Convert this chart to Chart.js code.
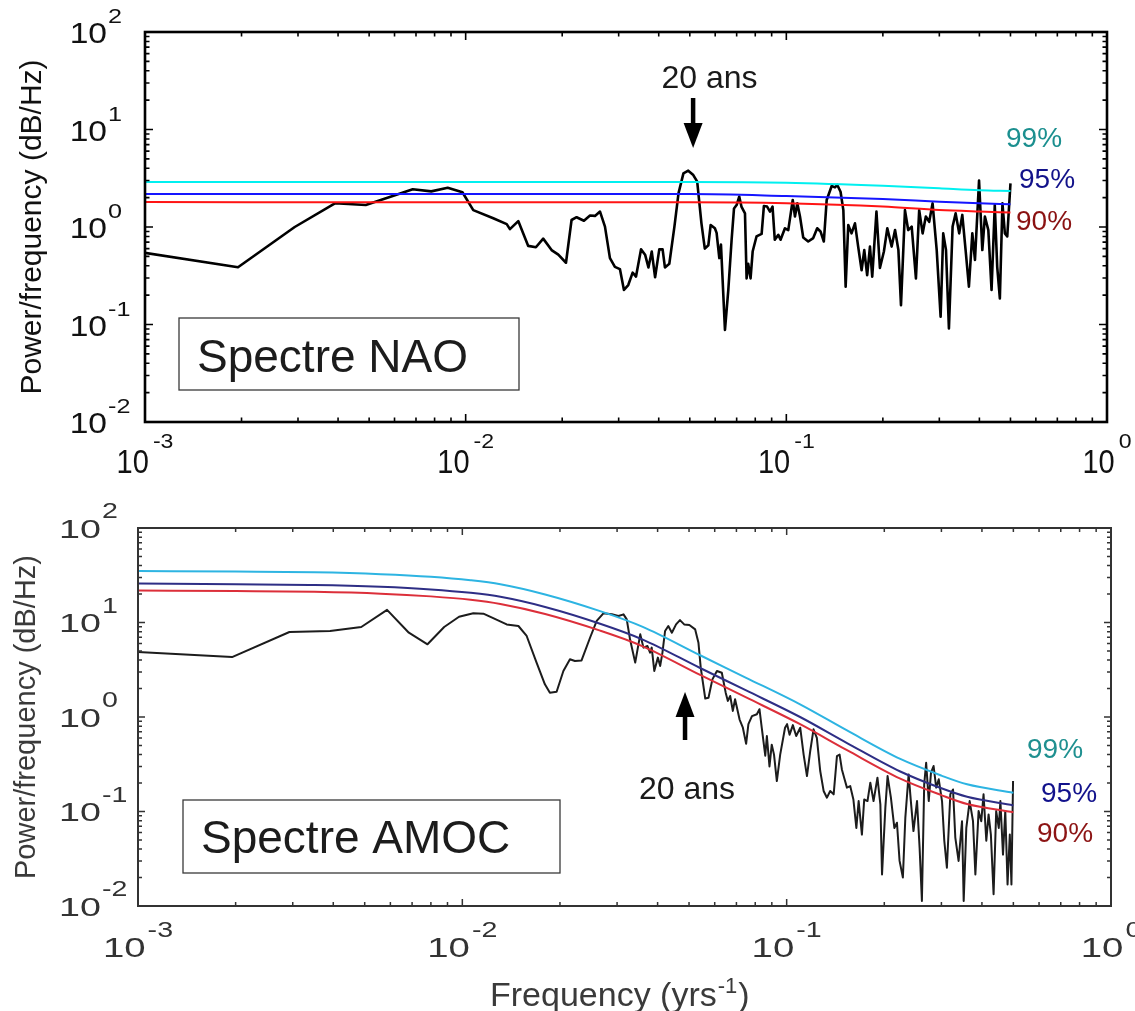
<!DOCTYPE html>
<html><head><meta charset="utf-8">
<script src="https://cdn.jsdelivr.net/npm/chart.js@4.4.1/dist/chart.umd.min.js"></script>
<style>
html,body{margin:0;padding:0;background:#fff;}
#wrap{position:relative;width:1135px;height:1011px;overflow:hidden;background:#fff;}
#c1{position:absolute;left:0;top:0;}
#c2{position:absolute;left:0;top:490px;}
</style></head>
<body><div id="wrap"><canvas id="c1" width="1135" height="490"></canvas><canvas id="c2" width="1135" height="521"></canvas></div>
<script>
// ---------------- DATA ----------------
const xTickValues = [0.001, 0.01, 0.1, 1];
const xTickExps = ['-3', '-2', '-1', '0'];
const yTickValues = [100, 10, 1, 0.1, 0.01];
const yTickExps = ['2', '1', '0', '-1', '-2'];

const naoFreq = [0.000977,0.00195,0.00293,0.00391,0.00488,0.00586,0.00684,0.00781,0.00879,0.00977,
0.01056,0.01219,0.01343,0.01374,0.01459,0.01567,0.01656,0.01745,0.01853,0.01945,0.02055,0.02139,0.02218,0.02338,0.02442,0.02531,0.02624,0.02719,0.02818,0.02920,
0.03027,0.03116,0.03214,0.03317,0.03398,0.03523,0.03627,0.03715,0.03805,0.03897,0.04016,0.04113,0.04182,0.04316,0.04477,0.04610,0.04776,0.04944,0.05127,0.05273,
0.05436,0.05569,0.05712,0.05808,0.05986,0.06061,0.06180,0.06254,0.06436,0.06593,0.06751,0.06868,0.06998,0.07130,0.07244,0.07431,0.07518,0.07605,0.07735,0.07852,
0.08072,0.08375,0.08511,0.08710,0.08892,0.09057,0.09204,0.09441,0.09594,0.0990,
0.1014,0.1047,0.1064,0.1082,0.1103,0.1129,0.1170,0.1213,0.1248,0.1278,0.1309,0.1336,0.1385,0.1418,0.1442,0.1476,0.1506,0.1531,0.1560,0.1597,
0.1637,0.1675,0.1717,0.1750,0.1787,0.1823,0.1853,0.1910,0.1958,0.2015,0.2065,0.2130,0.2183,0.2236,0.2278,0.2344,0.2399,0.2460,0.2536,0.2596,
0.2661,0.2723,0.2790,0.2858,0.2944,0.3028,0.3085,0.3147,0.3214,0.3300,0.3373,0.3460,0.3538,0.3623,0.3710,0.3802,0.3875,0.3990,0.4085,0.4161,
0.4265,0.4365,0.4467,0.4546,0.4633,0.4720,0.4803,0.4886,0.5];
const naoPower = [0.55,0.386,1.0,1.75,1.68,2.05,2.44,2.32,2.53,2.27,
1.49,1.23,1.07,0.95,1.15,0.64,0.62,0.76,0.58,0.52,0.43,1.18,1.26,1.16,1.31,1.30,1.44,1.01,0.48,0.39,
0.37,0.226,0.254,0.34,0.31,0.59,0.52,0.385,0.56,0.305,0.59,0.59,0.385,0.42,1.01,2.21,3.55,3.78,3.41,2.92,
1.09,0.60,0.65,1.05,0.97,0.87,0.48,0.66,0.088,0.226,0.74,1.55,1.68,2.05,1.62,1.38,0.297,0.42,0.297,0.56,
0.80,0.85,1.64,1.62,1.44,1.62,0.74,0.83,0.74,0.97,
0.93,1.89,1.28,1.75,1.28,0.78,0.71,0.77,0.97,0.90,0.71,1.89,2.63,2.55,2.70,2.30,1.49,0.244,1.05,0.86,
1.09,0.63,0.36,0.58,0.32,0.63,0.31,1.44,0.38,0.56,0.97,0.63,0.93,0.58,0.158,1.49,0.93,1.01,0.297,1.49,
0.86,1.28,1.13,1.75,0.58,0.120,0.86,0.58,0.091,1.01,1.38,0.86,1.33,0.58,0.244,0.86,0.46,2.99,0.58,1.28,
0.93,0.226,1.68,0.39,0.185,1.75,0.86,0.80,2.8];

const naoSigFreq = [0.001, 0.01, 0.05, 0.1, 0.2, 0.3, 0.4, 0.5];
const nao99 = [2.9, 2.9, 2.9, 2.85, 2.65, 2.49, 2.38, 2.34];
const nao95 = [2.18, 2.18, 2.18, 2.08, 1.94, 1.82, 1.75, 1.71];
const nao90 = [1.80, 1.79, 1.79, 1.75, 1.62, 1.49, 1.44, 1.41];

const amocFreq = [0.000977,0.00195,0.00293,0.00391,0.00488,0.00586,0.00684,0.00781,0.00879,0.00977,
0.01081,0.01161,0.01245,0.01370,0.01489,0.01579,0.01694,0.01797,0.01862,0.01953,0.02049,0.02147,0.02224,0.02331,0.02476,0.02596,0.02722,0.02890,0.03030,0.03140,
0.03213,0.03290,0.03412,0.03536,0.03618,0.03722,0.03791,0.03836,0.03907,0.04008,0.04074,0.04140,0.04218,0.04316,0.04426,0.04560,0.04688,0.04830,0.05012,0.05223,
0.05346,0.05433,0.05610,0.05741,0.05902,0.06095,0.06310,0.06486,0.06587,0.06697,0.06823,0.06933,0.07159,0.07328,0.07499,0.07621,0.07816,0.08093,0.08244,0.08378,
0.08590,0.08689,0.08851,0.08995,0.09141,0.09326,0.0955,0.09885,0.1003,0.1021,0.1045,0.1070,0.1101,0.1128,0.1155,0.1182,0.1210,0.1239,0.1269,0.1300,
0.1331,0.1362,0.1396,0.1429,0.1456,0.1480,0.1504,0.1534,0.1570,0.1606,0.1640,0.1667,0.1706,0.1734,0.1775,0.1811,0.1853,0.1905,0.1945,0.1968,
0.2015,0.2047,0.2096,0.2148,0.2188,0.2229,0.2282,0.2322,0.2377,0.2415,0.2460,0.2523,0.2570,0.2612,0.2655,0.2692,0.2742,0.2786,0.2838,0.2891,
0.2944,0.3013,0.3062,0.3119,0.3196,0.3258,0.3311,0.3389,0.3473,0.3514,0.3580,0.3666,0.3754,0.3818,0.3906,0.3981,0.4046,0.4126,0.4193,0.4262,
0.4345,0.4426,0.4508,0.4560,0.4645,0.4721,0.4798,0.4875,0.4932,0.4989];
const amocPower = [4.9,4.31,7.93,8.13,8.96,13.6,7.8,5.88,8.96,11.5,
12.5,12.4,11.1,9.55,9.18,7.2,3.76,2.22,1.81,1.85,3.07,4.08,3.91,3.97,6.9,10.4,12.5,12.2,11.7,12.2,
10.8,6.6,3.76,7.5,5.42,5.64,4.80,5.42,3.07,4.25,3.47,4.80,8.13,9.18,7.8,9.55,10.6,9.55,9.4,8.45,
6.1,3.33,1.57,1.60,2.50,3.07,2.94,1.81,1.48,1.67,1.16,1.54,0.94,0.77,0.52,0.84,1.02,1.07,1.21,0.77,
0.39,0.63,0.30,0.51,0.40,0.21,0.40,0.77,0.84,0.65,0.82,0.63,0.77,0.40,0.237,0.436,0.74,0.60,0.268,0.165,
0.140,0.165,0.152,0.386,0.40,0.279,0.228,0.179,0.186,0.134,0.067,0.129,0.057,0.134,0.129,0.202,0.129,0.228,0.119,0.0216,
0.110,0.237,0.140,0.067,0.076,0.030,0.020,0.086,0.247,0.129,0.062,0.129,0.041,0.0113,0.194,0.328,0.129,0.258,0.303,0.179,
0.219,0.129,0.049,0.0254,0.152,0.171,0.053,0.030,0.079,0.0113,0.067,0.129,0.079,0.0216,0.101,0.079,0.152,0.049,0.093,0.057,
0.0133,0.101,0.067,0.129,0.035,0.101,0.0169,0.057,0.0169,0.210];

const amocSigFreq = [0.001,0.002,0.0035,0.0056,0.008,0.0106,0.0131,0.018,0.0266,0.036,0.0541,0.075,0.11,0.1535,0.224,0.3,0.36,0.5];
const amoc99 = [35.1,34.6,34.0,32.5,30.5,28.0,25.4,19.8,13.2,9.0,4.5,2.6,1.36,0.72,0.36,0.24,0.194,0.158];
const amoc95 = [25.8,25.4,25.0,23.9,22.4,20.6,18.7,14.6,9.7,6.6,3.3,1.91,1.0,0.53,0.265,0.176,0.143,0.116];
const amoc90 = [21.8,21.5,21.1,20.2,18.9,17.4,15.7,12.3,8.2,5.6,2.79,1.61,0.84,0.446,0.223,0.149,0.120,0.098];

const levelLabels = ['99%', '95%', '90%'];

// ---------------- HELPERS ----------------
const FONT = '"Liberation Sans", Arial, Helvetica, sans-serif';
const pts = (xs, ys) => xs.map((x, i) => ({x: x, y: ys[i]}));

function scaledText(ctx, txt, x, y, size, sx, color, align) {
  ctx.save();
  ctx.font = size + 'px ' + FONT;
  ctx.fillStyle = color;
  ctx.textBaseline = 'alphabetic';
  ctx.textAlign = 'left';
  const w = ctx.measureText(txt).width * sx;
  let x0 = x;
  if (align === 'right') x0 = x - w;
  else if (align === 'center') x0 = x - w / 2;
  ctx.translate(x0, y);
  ctx.scale(sx, 1);
  ctx.fillText(txt, 0, 0);
  ctx.restore();
  return w;
}
function textWidth(ctx, txt, size, sx) {
  ctx.save(); ctx.font = size + 'px ' + FONT;
  const w = ctx.measureText(txt).width * sx; ctx.restore(); return w;
}

function axisDecor(cfg) {
  return {
    id: 'axisDecor',
    afterDatasetsDraw(chart) {
      const ctx = chart.ctx;
      const {left, right, top, bottom} = chart.chartArea;
      const xs = chart.scales.x, ys = chart.scales.y;
      ctx.save();
      ctx.strokeStyle = cfg.frameColor;
      ctx.lineWidth = cfg.tickWidth;
      ctx.beginPath();
      for (let e = -3; e < 0; e++) {
        for (let m = 1; m <= 9; m++) {
          const v = m * Math.pow(10, e);
          if (m === 1 && e === -3) continue;
          const px = xs.getPixelForValue(v);
          const len = m === 1 ? cfg.major : cfg.minor;
          ctx.moveTo(px, bottom); ctx.lineTo(px, bottom - len);
          ctx.moveTo(px, top); ctx.lineTo(px, top + len);
        }
      }
      for (let e = -2; e < 2; e++) {
        for (let m = 1; m <= 9; m++) {
          const v = m * Math.pow(10, e);
          if (m === 1 && e === -2) continue;
          const py = ys.getPixelForValue(v);
          const len = m === 1 ? cfg.major : cfg.minor;
          ctx.moveTo(left, py); ctx.lineTo(left + len, py);
          ctx.moveTo(right, py); ctx.lineTo(right - len, py);
        }
      }
      ctx.stroke();
      ctx.lineWidth = cfg.frameWidth;
      ctx.strokeRect(left, top, right - left, bottom - top);
      ctx.restore();

      yTickValues.forEach((v, i) => {
        const py = ys.getPixelForValue(v);
        const L = cfg.yLab;
        scaledText(ctx, '10', L.right, py + L.bDy, L.bSize, L.bSx, cfg.labelColor, 'right');
        scaledText(ctx, yTickExps[i], L.right + L.gap, py + L.eDy, L.eSize, L.eSx, cfg.labelColor, 'left');
      });
      xTickValues.forEach((v, i) => {
        const px = xs.getPixelForValue(v);
        const L = cfg.xLab;
        const bw = textWidth(ctx, '10', L.bSize, L.bSx);
        const ew = textWidth(ctx, xTickExps[i], L.eSize, L.eSx);
        const x0 = px - (bw + L.gap + ew) / 2;
        scaledText(ctx, '10', x0, bottom + L.bDy, L.bSize, L.bSx, cfg.labelColor, 'left');
        scaledText(ctx, xTickExps[i], x0 + bw + L.gap, bottom + L.eDy, L.eSize, L.eSx, cfg.labelColor, 'left');
      });

      const B = cfg.box;
      ctx.save();
      ctx.strokeStyle = '#3a3a3a'; ctx.lineWidth = 1.3;
      ctx.strokeRect(B.x, B.y, B.w, B.h);
      ctx.restore();
      scaledText(ctx, B.text, B.tx, B.ty, 46, 1, '#1c1c1c', 'left');

      const A = cfg.arrow;
      const ax = xs.getPixelForValue(A.f);
      ctx.save();
      ctx.strokeStyle = '#000'; ctx.fillStyle = '#000'; ctx.lineWidth = 4.5;
      ctx.beginPath(); ctx.moveTo(ax, A.tail); ctx.lineTo(ax, A.headBase); ctx.stroke();
      ctx.beginPath(); ctx.moveTo(ax - 9.5, A.headBase); ctx.lineTo(ax + 9.5, A.headBase); ctx.lineTo(ax, A.tip); ctx.closePath(); ctx.fill();
      ctx.restore();
      scaledText(ctx, '20 ans', A.textX, A.textY, 32, 1, '#1a1a1a', 'center');

      cfg.pct.forEach((p, i) => scaledText(ctx, levelLabels[i], p.x, p.y, 28, 1, p.color, 'left'));

      if (cfg.xTitle) {
        const T = cfg.xTitle;
        let x = T.x;
        x += scaledText(ctx, 'Frequency (yrs', x, T.y, 34, 1, T.color, 'left');
        x += scaledText(ctx, '-1', x + 1, T.y - 13, 22, 1, T.color, 'left') + 2;
        scaledText(ctx, ')', x, T.y, 34, 1, T.color, 'left');
      }
    }
  };
}

function makeChart(canvas, opts) {
  return new Chart(canvas, {
    type: 'scatter',
    data: {
      datasets: [
        {data: pts(opts.sigF, opts.s99), borderColor: opts.c99, borderWidth: 2, showLine: true, pointRadius: 0, cubicInterpolationMode: 'monotone'},
        {data: pts(opts.sigF, opts.s95), borderColor: opts.c95, borderWidth: 2, showLine: true, pointRadius: 0, cubicInterpolationMode: 'monotone'},
        {data: pts(opts.sigF, opts.s90), borderColor: opts.c90, borderWidth: 2, showLine: true, pointRadius: 0, cubicInterpolationMode: 'monotone'},
        {data: pts(opts.f, opts.p), borderColor: opts.cLine, borderWidth: opts.lw, showLine: true, pointRadius: 0, tension: 0, borderJoinStyle: 'round'}
      ]
    },
    options: {
      responsive: false,
      animation: false,
      devicePixelRatio: 1,
      events: [],
      layout: {padding: opts.padding},
      plugins: {legend: {display: false}, tooltip: {enabled: false}},
      scales: {
        x: {
          type: 'logarithmic', min: 0.001, max: 1,
          grid: {display: false, drawTicks: false},
          border: {display: false},
          ticks: {display: false},
          afterFit: (s) => { s.height = opts.xHeight; }
        },
        y: {
          type: 'logarithmic', min: 0.01, max: 100,
          grid: {display: false, drawTicks: false},
          border: {display: false},
          ticks: {display: false},
          title: {display: true, text: 'Power/frequency (dB/Hz)', color: opts.titleColor,
                  font: {family: FONT, size: opts.titleSize}, padding: {top: opts.titlePad, bottom: 0}},
          afterFit: (s) => { s.width = opts.yWidth; }
        }
      }
    },
    plugins: [axisDecor(opts.decor)]
  });
}

// ---------------- TOP: NAO ----------------
makeChart(document.getElementById('c1'), {
  f: naoFreq, p: naoPower, sigF: naoSigFreq, s99: nao99, s95: nao95, s90: nao90,
  c99: '#00f0f0', c95: '#1515ff', c90: '#ff1414', cLine: '#000000', lw: 2.6,
  padding: {top: 32, right: 28, left: 0, bottom: 0}, xHeight: 68, yWidth: 145,
  titleColor: '#111', titleSize: 30, titlePad: 15,
  decor: {
    frameColor: '#000', frameWidth: 2.6, tickWidth: 1.6, major: 8, minor: 4.5, labelColor: '#111',
    yLab: {right: 107, gap: 1, bSize: 30, bSx: 1.12, bDy: 11, eSize: 21, eSx: 1.2, eDy: -9},
    xLab: {gap: 4, bSize: 33, bSx: 0.88, bDy: 51, eSize: 21, eSx: 1.1, eDy: 26},
    box: {x: 179, y: 318, w: 340, h: 72, text: 'Spectre NAO', tx: 197, ty: 372},
    arrow: {f: 0.0512, tail: 98, headBase: 123, tip: 148, textX: 709.5, textY: 88},
    pct: [{x: 1006, y: 147, color: '#1b8f8f'}, {x: 1019, y: 188, color: '#12128a'}, {x: 1016, y: 230, color: '#8a1212'}]
  }
});

// ---------------- BOTTOM: AMOC ----------------
makeChart(document.getElementById('c2'), {
  f: amocFreq, p: amocPower, sigF: amocSigFreq, s99: amoc99, s95: amoc95, s90: amoc90,
  c99: '#2db4e2', c95: '#2e2e85', c90: '#dc2f3a', cLine: '#1c1c1c', lw: 2.0,
  padding: {top: 38, right: 24, left: 0, bottom: 0}, xHeight: 105, yWidth: 138,
  titleColor: '#3a3a3a', titleSize: 29, titlePad: 10,
  decor: {
    frameColor: '#333', frameWidth: 2, tickWidth: 1.5, major: 7, minor: 4, labelColor: '#333',
    yLab: {right: 101, gap: 1, bSize: 26, bSx: 1.45, bDy: 9.5, eSize: 22, eSx: 1.3, eDy: -10},
    xLab: {gap: 2, bSize: 28, bSx: 1.37, bDy: 51, eSize: 22, eSx: 1.3, eDy: 31},
    box: {x: 183, y: 310, w: 377, h: 73, text: 'Spectre AMOC', tx: 201, ty: 363},
    arrow: {f: 0.0486, tail: 250, headBase: 227, tip: 202, textX: 687, textY: 309},
    pct: [{x: 1027, y: 268, color: '#1f9090'}, {x: 1041, y: 312, color: '#12128c'}, {x: 1037, y: 352, color: '#8c1414'}],
    xTitle: {x: 490, y: 516, color: '#3a3a3a'}
  }
});
</script></body></html>
